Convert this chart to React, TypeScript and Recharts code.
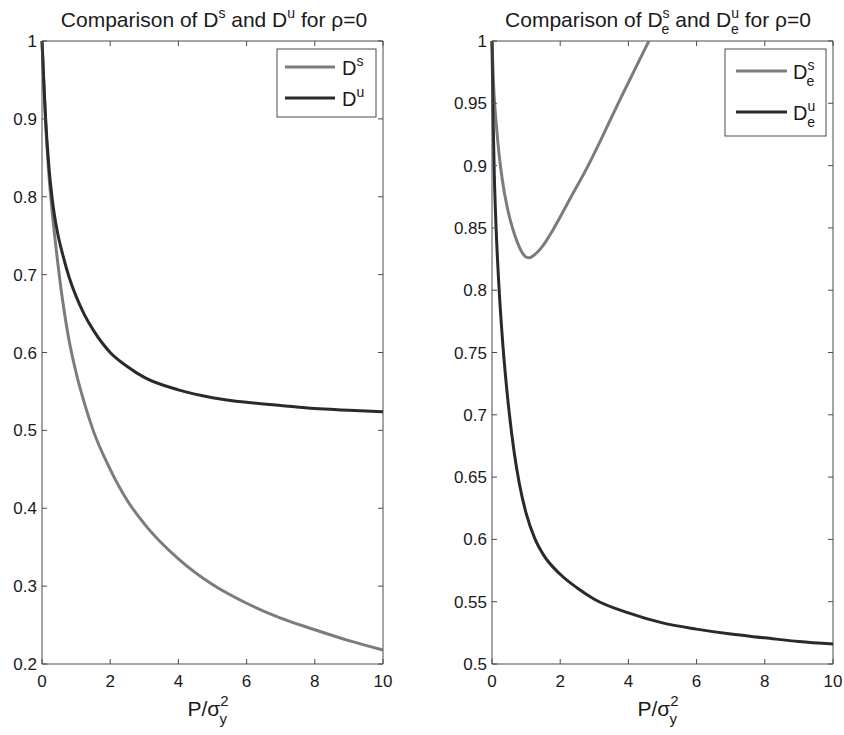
import React from 'react';
import { LineChart, Line, XAxis, YAxis, ReferenceLine } from 'recharts';

// x positions (P / sigma_y^2) and read-off values for each curve
const X_TICKS = [0, 2, 4, 6, 8, 10];
const LEFT_Y_TICKS = [0.2, 0.3, 0.4, 0.5, 0.6, 0.7, 0.8, 0.9, 1];
const RIGHT_Y_TICKS = [0.5, 0.55, 0.6, 0.65, 0.7, 0.75, 0.8, 0.85, 0.9, 0.95, 1];

const LEFT_P = [0, 0.05, 0.1, 0.2, 0.3, 0.45, 0.6, 0.8, 1, 1.25, 1.5, 2, 2.5, 3, 4, 5, 6, 7, 8, 9, 10];
const DS = [1, 0.95, 0.9, 0.83, 0.78, 0.72, 0.668, 0.614, 0.574, 0.534, 0.5, 0.45, 0.41, 0.38, 0.335, 0.302, 0.278, 0.259, 0.244, 0.23, 0.218];
const DU = [1, 0.95, 0.905, 0.84, 0.797, 0.755, 0.727, 0.696, 0.672, 0.648, 0.629, 0.6, 0.582, 0.568, 0.552, 0.542, 0.536, 0.532, 0.528, 0.526, 0.524];

const DEU_P = [0, 0.03, 0.07, 0.12, 0.2, 0.3, 0.4, 0.5, 0.65, 0.8, 1, 1.25, 1.5, 2, 2.5, 3, 4, 5, 6, 7, 8, 9, 10];
const DEU = [1, 0.94, 0.89, 0.85, 0.805, 0.763, 0.73, 0.703, 0.67, 0.645, 0.621, 0.601, 0.588, 0.572, 0.561, 0.552, 0.541, 0.533, 0.528, 0.524, 0.521, 0.518, 0.516];

const DES_P = [0, 0.03, 0.07, 0.12, 0.2, 0.3, 0.45, 0.6, 0.75, 0.9, 1, 1.1, 1.2, 1.35, 1.5, 1.8, 2.3, 2.8, 3.25, 3.7, 4.15, 4.6, 5];
const DES = [1, 0.975, 0.953, 0.935, 0.911, 0.889, 0.866, 0.85, 0.838, 0.8295, 0.8265, 0.826, 0.8275, 0.831, 0.836, 0.849, 0.874, 0.899, 0.924, 0.95, 0.975, 1.0, 1.022];

const zip = (xs: number[], ys: number[]) => xs.map((p, i) => ({ p, v: ys[i] }));

const FONT = '"Liberation Sans", Arial, Helvetica, sans-serif';
const GRAY = '#7c7c7c';
const DARK = '#2a2a2a';
const AXIS = '#4a4a4a';
const TEXT = '#1a1a1a';

const TOP = 41;
const BOTTOM = 664;
const H = 735;

// one panel: plot box spans [plotLeft, plotRight] in chart coordinates
const Panel = ({ width, plotLeft, plotRight, yTicks, yMin, series }: any) => {
    const XTick = (props: any) => {
        const { x, payload } = props;
        return (
            <g>
                <line x1={x} x2={x} y1={BOTTOM} y2={BOTTOM - 5} stroke={AXIS} />
                <line x1={x} x2={x} y1={TOP} y2={TOP + 5} stroke={AXIS} />
                <text x={x} y={687} textAnchor="middle" fontSize={17} fill={TEXT} fontFamily={FONT}>
                    {payload.value}
                </text>
            </g>
        );
    };
    const YTick = (props: any) => {
        const { y, payload } = props;
        return (
            <g>
                <line x1={plotLeft} x2={plotLeft + 5} y1={y} y2={y} stroke={AXIS} />
                <line x1={plotRight} x2={plotRight - 5} y1={y} y2={y} stroke={AXIS} />
                <text x={plotLeft - 5} y={y + 6} textAnchor="end" fontSize={17} fill={TEXT} fontFamily={FONT}>
                    {String(payload.value)}
                </text>
            </g>
        );
    };
    return (
        <LineChart
            width={width}
            height={H}
            margin={{ top: TOP, bottom: H - BOTTOM - 30, left: plotLeft - 40, right: width - plotRight }}
        >
            <XAxis
                type="number"
                dataKey="p"
                domain={[0, 10]}
                ticks={X_TICKS}
                height={30}
                axisLine={{ stroke: AXIS }}
                tickLine={false}
                tick={<XTick />}
                interval={0}
            />
            <YAxis
                type="number"
                domain={[yMin, 1]}
                ticks={yTicks}
                width={40}
                allowDataOverflow
                axisLine={{ stroke: AXIS }}
                tickLine={false}
                tick={<YTick />}
                interval={0}
            />
            {/* box top and right */}
            <ReferenceLine y={1} stroke={AXIS} />
            <ReferenceLine x={10} stroke={AXIS} />
            {series.map((s: any) => (
                <Line
                    key={s.name}
                    data={s.data}
                    dataKey="v"
                    type="monotone"
                    stroke={s.color}
                    strokeWidth={3}
                    dot={false}
                    isAnimationActive={false}
                />
            ))}
        </LineChart>
    );
};

const XLabel = ({ cx }: { cx: number }) => (
    <text x={cx - 4} y={716} textAnchor="middle" fontSize={21} fill={TEXT} fontFamily={FONT}>
        P/σ
        <tspan fontSize={15} dy={-10}>2</tspan>
        <tspan fontSize={15} dx={-9} dy={18}>y</tspan>
    </text>
);

const App = () => {
    return (
        <div style={{ position: 'absolute', left: 0, top: 0, width: 844, height: H, background: '#fff' }}>
            <div style={{ position: 'absolute', left: 0, top: 0 }}>
                <Panel
                    width={420}
                    plotLeft={42}
                    plotRight={383}
                    yTicks={LEFT_Y_TICKS}
                    yMin={0.2}
                    series={[
                        { name: 'Ds', data: zip(LEFT_P, DS), color: GRAY },
                        { name: 'Du', data: zip(LEFT_P, DU), color: DARK },
                    ]}
                />
            </div>
            <div style={{ position: 'absolute', left: 420, top: 0 }}>
                <Panel
                    width={424}
                    plotLeft={72}
                    plotRight={413}
                    yTicks={RIGHT_Y_TICKS}
                    yMin={0.5}
                    series={[
                        { name: 'Des', data: zip(DES_P, DES), color: GRAY },
                        { name: 'Deu', data: zip(DEU_P, DEU), color: DARK },
                    ]}
                />
            </div>
            <svg width={844} height={H} style={{ position: 'absolute', left: 0, top: 0, pointerEvents: 'none' }}>
                {/* titles */}
                <text x={214} y={27} textAnchor="middle" fontSize={21} fill={TEXT} fontFamily={FONT}>
                    Comparison of D<tspan fontSize={14} dy={-9}>s</tspan>
                    <tspan dy={9}> and D</tspan>
                    <tspan fontSize={14} dy={-9}>u</tspan>
                    <tspan dy={9}> for ρ=0</tspan>
                </text>
                <text x={658} y={27} textAnchor="middle" fontSize={21} fill={TEXT} fontFamily={FONT}>
                    Comparison of D<tspan fontSize={14} dy={-9}>s</tspan>
                    <tspan fontSize={14} dx={-8} dy={16}>e</tspan>
                    <tspan dy={-7}> and D</tspan>
                    <tspan fontSize={14} dy={-9}>u</tspan>
                    <tspan fontSize={14} dx={-8} dy={16}>e</tspan>
                    <tspan dy={-7}> for ρ=0</tspan>
                </text>

                {/* legends */}
                <rect x={277} y={49} width={99} height={68} fill="#fff" stroke={AXIS} />
                <line x1={285} x2={335} y1={67} y2={67} stroke={GRAY} strokeWidth={3} />
                <line x1={285} x2={335} y1={98} y2={98} stroke={DARK} strokeWidth={3} />
                <text x={342} y={75} fontSize={20} fill={TEXT} fontFamily={FONT}>
                    D<tspan fontSize={14} dy={-9}>s</tspan>
                </text>
                <text x={342} y={106} fontSize={20} fill={TEXT} fontFamily={FONT}>
                    D<tspan fontSize={14} dy={-9}>u</tspan>
                </text>

                <rect x={725} y={49} width={101} height={87} fill="#fff" stroke={AXIS} />
                <line x1={736} x2={787} y1={71} y2={71} stroke={GRAY} strokeWidth={3} />
                <line x1={736} x2={787} y1={112} y2={112} stroke={DARK} strokeWidth={3} />
                <text x={793} y={79} fontSize={20} fill={TEXT} fontFamily={FONT}>
                    D<tspan fontSize={14} dy={-9}>s</tspan>
                    <tspan fontSize={14} dx={-8} dy={16}>e</tspan>
                </text>
                <text x={793} y={120} fontSize={20} fill={TEXT} fontFamily={FONT}>
                    D<tspan fontSize={14} dy={-9}>u</tspan>
                    <tspan fontSize={14} dx={-8} dy={16}>e</tspan>
                </text>

                <XLabel cx={212} />
                <XLabel cx={662} />
            </svg>
        </div>
    );
};

export default App;
